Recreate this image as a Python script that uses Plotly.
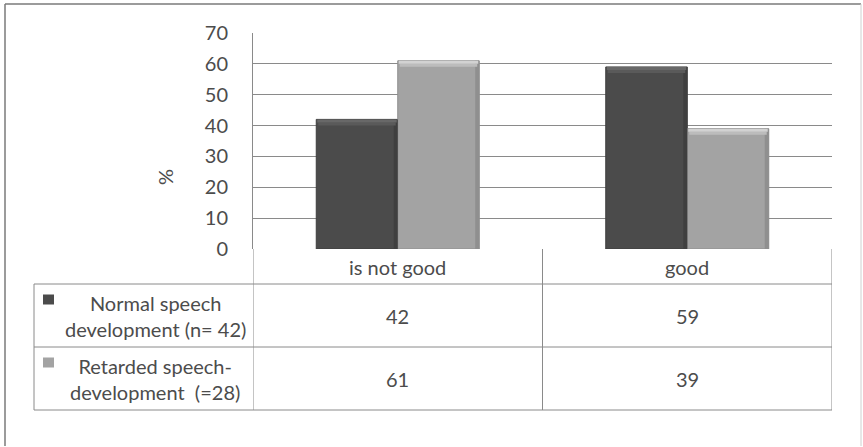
import plotly.graph_objects as go

# Chart data
categories = ["is not good", "good"]
series_names = ["Normal speech<br>development (n= 42)", "Retarded speech-<br>development  (=28)"]
normal_values = [42, 59]
retarded_values = [61, 39]
y_ticks = [0, 10, 20, 30, 40, 50, 60, 70]

series_values = [normal_values, retarded_values]
series_colors = ["#4b4b4b", "#a3a3a3"]
series_edges = ["#3e3e3e", "#8e8e8e"]
series_bevel = [["#686868", "#5a5a5a"], ["#d2d2d2", "#bcbcbc"]]
series_shade = ["#3f3f3f", "#8f8f8f"]

W, H = 863, 447
L, R, T, B = 253, 31, 33, 198
PW = W - L - R
PH = H - T - B
BARGAP = 0.437
Y_MAX = 70

FONT = "Lato, 'Open Sans', sans-serif"
TEXT = "#4c4c4c"
GRID = "#8a8a8a"
FS = 20


def px(x):
    return (x - L) / PW


def py(y):
    return (H - B - y) / PH


def label(**kw):
    base = dict(showarrow=False, xanchor="center", yanchor="middle",
                font=dict(size=FS, color=TEXT, family=FONT))
    base.update(kw)
    return base


fig = go.Figure()
for name, vals, col, edge in zip(series_names, series_values, series_colors, series_edges):
    fig.add_trace(go.Bar(
        x=categories, y=vals, name=name.replace("<br>", " "),
        marker=dict(color=col, line=dict(color=edge, width=1)),
        showlegend=False,
    ))

shapes = []
ann = []

# soft bevel on each bar: light band on top, darker strip on the right side
bar_w = (1 - BARGAP) / len(series_values)
px_y = Y_MAX / PH          # data units per pixel vertically
px_x = 2.0 / PW            # data units per pixel horizontally
for j, (vals, bevel, shade) in enumerate(zip(series_values, series_bevel, series_shade)):
    for i, v in enumerate(vals):
        x0 = i - (1 - BARGAP) / 2 + j * bar_w
        x1 = x0 + bar_w
        shapes.append(dict(type="rect", xref="x", yref="y", layer="above",
                           x0=x1 - 4 * px_x, x1=x1, y0=0, y1=v,
                           fillcolor=shade, line=dict(width=0)))
        shapes.append(dict(type="rect", xref="x", yref="y", layer="above",
                           x0=x0 + 2 * px_x, x1=x1 - 2 * px_x,
                           y0=v - 6 * px_y, y1=v - 3 * px_y,
                           fillcolor=bevel[1], line=dict(width=0)))
        shapes.append(dict(type="rect", xref="x", yref="y", layer="above",
                           x0=x0 + 1 * px_x, x1=x1 - 1 * px_x,
                           y0=v - 3 * px_y, y1=v,
                           fillcolor=bevel[0], line=dict(width=0)))

line = dict(color=GRID, width=1)

# table grid: horizontal row lines
row_tops = [284, 347, 410]
for yy in row_tops:
    shapes.append(dict(type="line", xref="paper", yref="paper",
                       x0=px(34), x1=1, y0=py(yy), y1=py(yy), line=line))
# left edge of the series-name column
shapes.append(dict(type="line", xref="paper", yref="paper",
                   x0=px(34), x1=px(34), y0=py(284), y1=py(410), line=line))
# category boundaries continue down through the table
for xb in [-0.5, 0.5, 1.5]:
    shapes.append(dict(type="line", xref="x", yref="paper",
                       x0=xb, x1=xb, y0=0, y1=py(410), line=line))

# category header row
for c in categories:
    ann.append(label(x=c, xref="x", y=py(266.5), yref="paper", text=c))

# value rows
row_centers = [315.5, 378.5]
for rc, vals, col, name in zip(row_centers, series_values, series_colors, series_names):
    for c, v in zip(categories, vals):
        ann.append(label(x=c, xref="x", y=py(rc), yref="paper", text=str(v)))
    ann.append(label(x=px(155), xref="paper", y=py(rc), yref="paper", text=name,
                     align="center"))
    # legend key
    shapes.append(dict(type="rect", xref="paper", yref="paper",
                       x0=px(43), x1=px(54), y0=py(rc - 21), y1=py(rc - 11),
                       fillcolor=col, line=dict(color=col, width=0)))

# y-axis title
ann.append(label(x=px(165), xref="paper", y=py(177), yref="paper", text="%",
                 textangle=-90))

# outer frame
frame = dict(color="#7a7a7a", width=1.5)
shapes.append(dict(type="line", xref="paper", yref="paper",
                   x0=px(5), x1=px(5), y0=py(4), y1=py(446), line=frame))
shapes.append(dict(type="line", xref="paper", yref="paper",
                   x0=px(5), x1=px(861), y0=py(4), y1=py(4), line=frame))
shapes.append(dict(type="line", xref="paper", yref="paper",
                   x0=px(861), x1=px(861), y0=py(4), y1=py(446),
                   line=dict(color="#d0d0d0", width=1)))

fig.update_layout(
    width=W, height=H,
    margin=dict(l=L, r=R, t=T, b=B),
    paper_bgcolor="white", plot_bgcolor="white",
    barmode="group", bargap=BARGAP, bargroupgap=0,
    shapes=shapes, annotations=ann,
    font=dict(family=FONT, color=TEXT),
)
fig.update_xaxes(range=[-0.5, 1.5], showticklabels=False, showgrid=False,
                 showline=False, zeroline=False)
fig.update_yaxes(range=[0, Y_MAX], tickvals=y_ticks, showgrid=True, gridcolor=GRID,
                 gridwidth=1, zeroline=False, showline=True, linecolor=GRID,
                 ticks="", ticklabelstandoff=20,
                 tickfont=dict(size=FS, color=TEXT, family=FONT))

fig.write_html("out.html")
